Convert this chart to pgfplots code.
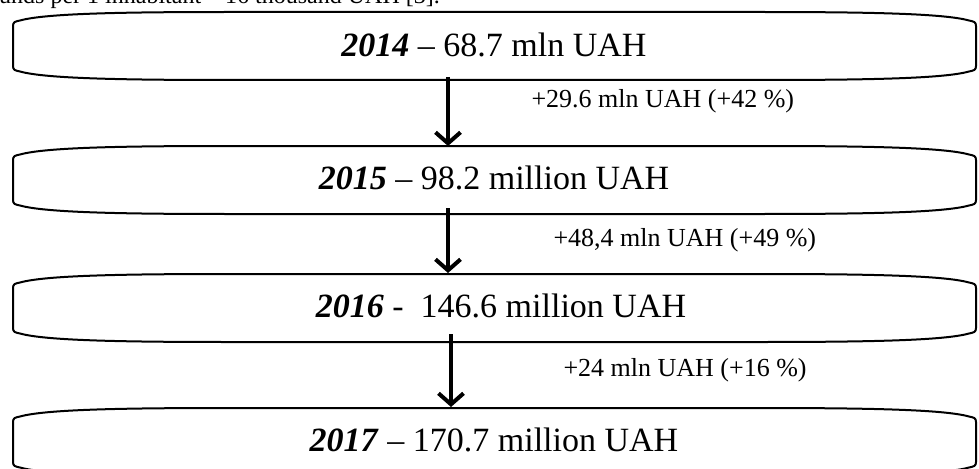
\documentclass[border=0pt]{standalone}
\usepackage{fontspec}
\setmainfont{Liberation Serif}
\usepackage{pgfplots}
\pgfplotsset{compat=1.18}
\usetikzlibrary{arrows.meta}

\newcommand{\flowbox}[2]{%
\draw[line width=2bp,black] (13,{#1+14}) .. controls (13,{#1+10}) and (15,{#1+9.5}) .. (20,{#1+8.5})
 .. controls (45,{#1+1.5}) and (120,{#1}) .. (230,{#1}) -- (759,{#1})
 .. controls (869,{#1}) and (944,{#1+1.5}) .. (969,{#1+8.5})
 .. controls (974,{#1+9.5}) and (976,{#1+10}) .. (976,{#1+14})
 -- (976,{#2-14}) .. controls (976,{#2-10}) and (974,{#2-9.5}) .. (969,{#2-8.5})
 .. controls (944,{#2-1.5}) and (869,{#2}) .. (759,{#2}) -- (230,{#2})
 .. controls (120,{#2}) and (45,{#2-1.5}) .. (20,{#2-8.5})
 .. controls (15,{#2-9.5}) and (13,{#2-10}) .. (13,{#2-14}) -- cycle;}

\begin{document}
\begin{tikzpicture}
\begin{axis}[
  scale only axis, width=979bp, height=469bp,
  xmin=0, xmax=979, ymin=0, ymax=469, y dir=reverse,
  hide axis, clip=false]
\flowbox{12}{80}
\flowbox{146}{214}
\flowbox{274}{342}
\flowbox{408}{476}
\addplot[line width=4bp, black, -{Straight Barb[length=11bp,width=25bp,line width=4bp]}] coordinates {(448,77) (448,146)};
\addplot[line width=4bp, black, -{Straight Barb[length=11bp,width=25bp,line width=4bp]}] coordinates {(448,208) (448,273)};
\addplot[line width=4bp, black, -{Straight Barb[length=11bp,width=25bp,line width=4bp]}] coordinates {(451,334) (451,407)};
\node[anchor=base east, inner sep=0pt, font=\fontsize{24bp}{28bp}\selectfont] at (440,4) {funds per 1 inhabitant -- 16 thousand UAH [3].};
\node[font=\fontsize{34bp}{40bp}\selectfont] at (494,45) {\textbf{\textit{2014}} -- 68.7 mln UAH};
\node[font=\fontsize{34bp}{40bp}\selectfont] at (494,178) {\textbf{\textit{2015}} -- 98.2 million UAH};
\node[font=\fontsize{34bp}{40bp}\selectfont] at (501,306) {\textbf{\textit{2016}} -\ \ 146.6 million UAH};
\node[font=\fontsize{34bp}{40bp}\selectfont] at (494,440) {\textbf{\textit{2017}} -- 170.7 million UAH};
\node[anchor=west, font=\fontsize{26bp}{30bp}\selectfont] at (528,101) {+29.6 mln UAH (+42 \%)};
\node[anchor=west, font=\fontsize{26bp}{30bp}\selectfont] at (550,240) {+48,4 mln UAH (+49 \%)};
\node[anchor=west, font=\fontsize{26bp}{30bp}\selectfont] at (560,370) {+24 mln UAH (+16 \%)};
\end{axis}
\pgfresetboundingbox
\useasboundingbox (0,0) rectangle (979bp,469bp);
\end{tikzpicture}
\end{document}
